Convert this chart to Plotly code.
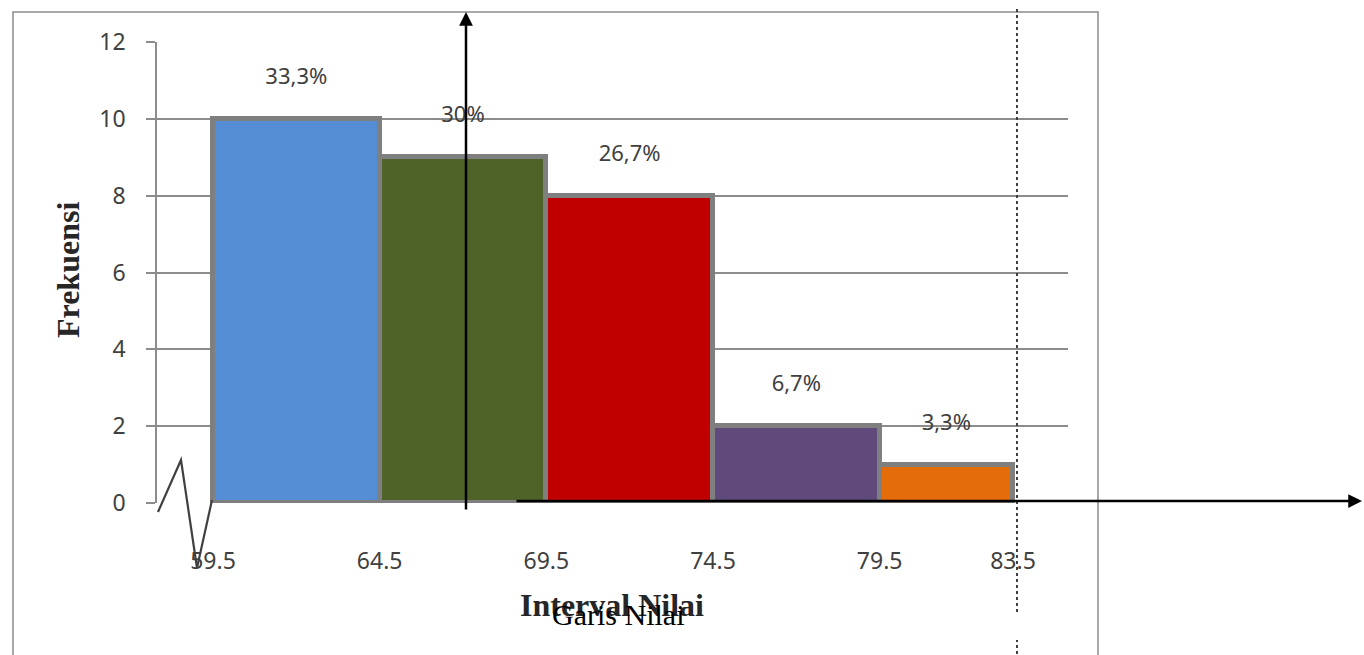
import plotly.graph_objects as go

# ---- data ----
bin_edges = [59.5, 64.5, 69.5, 74.5, 79.5, 83.5]
frekuensi = [10, 9, 8, 2, 1]
persen = ["33,3%", "30%", "26,7%", "6,7%", "3,3%"]
bar_colors = ["#558ED5", "#4F6228", "#C00000", "#604A7B", "#E46C0A"]
y_ticks = [0, 2, 4, 6, 8, 10, 12]
edge_labels = ["59.5", "64.5", "69.5", "74.5", "79.5", "83.5"]

centers = [(a + b) / 2 for a, b in zip(bin_edges[:-1], bin_edges[1:])]
widths = [b - a for a, b in zip(bin_edges[:-1], bin_edges[1:])]

W, H = 1364, 655
L, R, T, B = 157, 296, 42, 152
PW, PH = W - L - R, H - T - B


def px(x):
    return (x - L) / PW


def py(y):
    return (H - B - y) / PH


fig = go.Figure()
fig.add_trace(go.Bar(
    x=centers, y=frekuensi, width=widths,
    marker=dict(color=bar_colors, line=dict(color="#7F7F7F", width=5)),
    showlegend=False, hoverinfo="skip",
))
fig.add_trace(go.Scatter(
    x=centers, y=[v + 1.05 for v in frekuensi], text=persen,
    mode="text", textposition="middle center",
    textfont=dict(family="Noto Sans", size=22, color="#404040"),
    showlegend=False, hoverinfo="skip",
))

shapes = []
# outer chart frame
shapes.append(dict(type="rect", xref="paper", yref="paper",
                   x0=px(13), x1=px(1098), y0=py(670), y1=py(12),
                   line=dict(color="#8C8C8C", width=1.5), layer="below"))
# dotted vertical line
shapes.append(dict(type="line", xref="paper", yref="paper",
                   x0=px(1017), x1=px(1017), y0=py(612), y1=py(8),
                   line=dict(color="#404040", width=2, dash="dot")))
shapes.append(dict(type="line", xref="paper", yref="paper",
                   x0=px(1017), x1=px(1017), y0=py(660), y1=py(640),
                   line=dict(color="#404040", width=2, dash="dot")))
# axis break zigzag
zz = [(158, 512), (181, 460), (197, 568), (212, 500)]
path = "M " + " L ".join(f"{px(a)},{py(b)}" for a, b in zz)
shapes.append(dict(type="path", xref="paper", yref="paper", path=path,
                   line=dict(color="#404040", width=2.2)))

annotations = []
# vertical arrow
annotations.append(dict(xref="paper", yref="paper", x=px(466), y=py(12),
                        ax=0, ay=499, showarrow=True, arrowhead=2,
                        arrowsize=1.1, arrowwidth=2.5, arrowcolor="black", text=""))
# horizontal arrow
annotations.append(dict(xref="paper", yref="paper", x=px(1362), y=py(501),
                        ax=-847, ay=0, showarrow=True, arrowhead=2,
                        arrowsize=1.1, arrowwidth=2.5, arrowcolor="black", text=""))
# axis titles (overlapping in the original)
annotations.append(dict(xref="paper", yref="paper", x=px(612), y=py(605),
                        text="<b>Interval Nilai</b>", showarrow=False,
                        font=dict(family="Liberation Serif", size=32, color="#262626"),
                        xanchor="center", yanchor="middle"))
annotations.append(dict(xref="paper", yref="paper", x=px(618), y=py(614),
                        text="Garis Nilai", showarrow=False,
                        font=dict(family="Liberation Serif", size=30, color="black"),
                        xanchor="center", yanchor="middle"))
annotations.append(dict(xref="paper", yref="paper", x=px(68), y=py(270),
                        text="<b>Frekuensi</b>", showarrow=False, textangle=-90,
                        font=dict(family="Liberation Serif", size=32, color="#262626"),
                        xanchor="center", yanchor="middle"))

x_lo = bin_edges[0] - (213 - L) * (bin_edges[-1] - bin_edges[0]) / (1013 - 213)
x_hi = bin_edges[-1] + (L + PW - 1013) * (bin_edges[-1] - bin_edges[0]) / (1013 - 213)

fig.update_layout(
    width=W, height=H,
    margin=dict(l=L, r=R, t=T, b=B, pad=0),
    paper_bgcolor="white", plot_bgcolor="white",
    bargap=0,
    xaxis=dict(range=[x_lo, x_hi], tickvals=bin_edges, ticktext=edge_labels,
               ticks="", showgrid=False, zeroline=False, showline=False,
               tickfont=dict(family="Noto Sans", size=23, color="#404040"),
               ticklabelstandoff=42),
    xaxis2=dict(overlaying="x", anchor="y", side="bottom", range=[0, 5],
                tickvals=[1, 2, 3, 4, 5], ticks="outside", ticklen=10,
                tickcolor="#8C8C8C", tickwidth=1.5, showticklabels=False,
                showgrid=False, zeroline=False, showline=False),
    yaxis=dict(range=[0, 12], tickvals=y_ticks, ticks="outside", ticklen=9,
               tickcolor="#8C8C8C", tickwidth=1.5, showgrid=True,
               gridcolor="#8C8C8C", gridwidth=1.5, zeroline=False,
               showline=True, linecolor="#8C8C8C", linewidth=1.5,
               tickfont=dict(family="Noto Sans", size=23, color="#404040"),
               ticklabelstandoff=16),
    shapes=shapes, annotations=annotations,
)

fig.write_html("out.html")
